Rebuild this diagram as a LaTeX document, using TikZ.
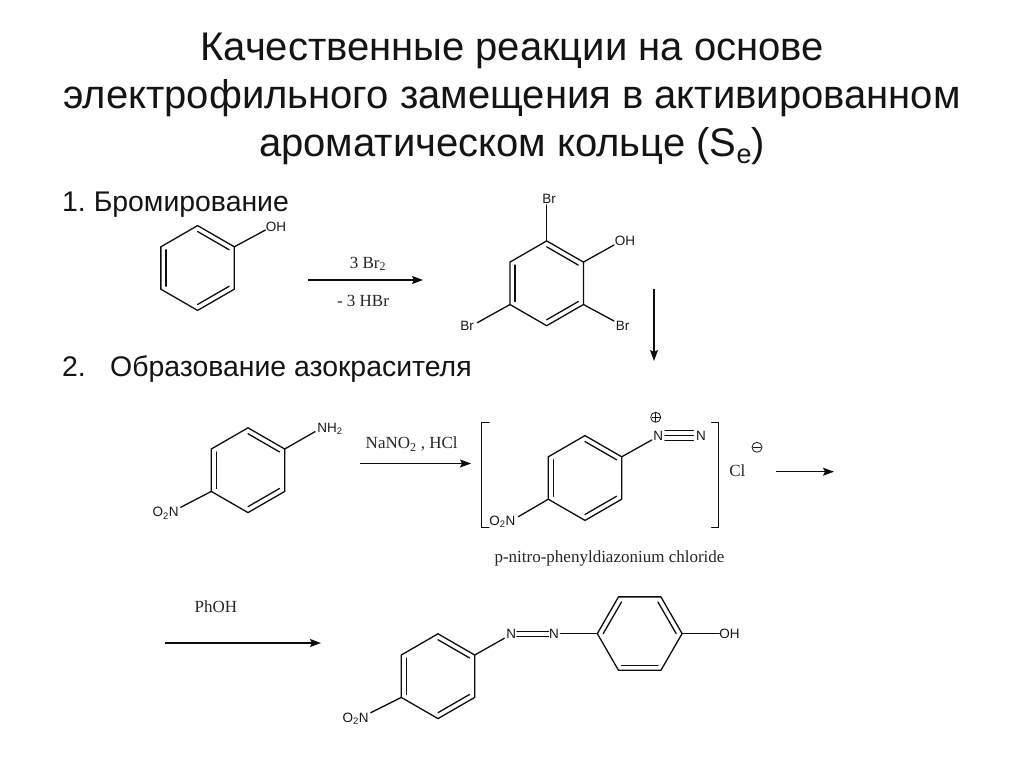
\documentclass[tikz,border=0pt]{standalone}
\usepackage{fontspec}
\setmainfont{Liberation Sans}
\newfontfamily\serifchem{Liberation Serif}
\usetikzlibrary{arrows.meta,calc}
\frenchspacing
\tikzset{
  bond/.style={line width=1.3pt,line cap=round,line join=miter,black!95},
  rx/.style={line width=1.3pt,black!95,-{Stealth[length=11pt,width=8pt,inset=2pt]}},
  atom/.style={inner sep=0.6pt,font=\fontsize{13.5}{14}\selectfont,text=black!90},
  cond/.style={inner sep=0pt,font=\serifchem\fontsize{17}{18}\selectfont,text=black!85},
  ttl/.style={inner sep=0pt,anchor=base,font=\fontsize{40}{44}\selectfont,text=black!92},
  sub/.style={inner sep=0pt,anchor=base west,font=\fontsize{28.4}{30}\selectfont,text=black!92},
  chg/.style={circle,draw=black!90,line width=0.8pt,minimum size=10pt,inner sep=0pt}
}
\newcommand{\ChemRing}[4]{%
  \coordinate (#1c) at (#2,#3);
  \foreach \k in {1,...,6}{\coordinate (#1\k) at ($(#2,#3)+({42.4*cos(#4+60*(\k-1))},{42.4*sin(#4+60*(\k-1))})$);}
  \draw[bond] (#11)--(#12)--(#13)--(#14)--(#15)--(#16)--cycle;
}
\newcommand{\ChemDouble}[3]{\draw[bond] ($(#1c)!0.86!(#1#2)$)--($(#1c)!0.86!(#1#3)$);}
\begin{document}
\begin{tikzpicture}[x=1pt,y=-1pt]
\useasboundingbox (0,0) rectangle (1024,768);
\fill[white] (0,0) rectangle (1024,768);
% title
\node[ttl] (t1) at (512,60.7) {Качественные реакции на основе};
\node[ttl] (t2) at (512,108.5) {электрофильного замещения в активированном};
\node[ttl] (t3) at (512,156.7) {ароматическом кольце (S\raisebox{-7pt}{\fontsize{27}{28}\selectfont e})};
\node[sub] (h1) at (62,211.7) {1. Бромирование};
\node[sub] (h2a) at (62,376) {2.};
\node[sub] (h2b) at (110,376) {Образование азокрасителя};
% phenol
\ChemRing{a}{197.6}{268}{-90}
\ChemDouble{a}{1}{2}\ChemDouble{a}{3}{4}\ChemDouble{a}{5}{6}
\node[atom] (aoh) at (276,227) {OH};
\draw[bond] (a2)--(265.5,230) coordinate (aohb);
% arrow 1
\coordinate (r1s) at (308,280);\coordinate (r1e) at (423,280);
\draw[rx] (r1s)--(r1e);
\node[cond] (r1a) at (368,264) {3 Br\textsubscript{2}};
\node[cond] (r1b) at (363,301) {- 3 HBr};
% tribromophenol
\ChemRing{b}{546.7}{283.3}{-90}
\ChemDouble{b}{1}{2}\ChemDouble{b}{3}{4}\ChemDouble{b}{5}{6}
\node[atom] (bbr1) at (549,198.5) {Br};
\node[atom] (boh) at (625,241) {OH};
\node[atom] (bbr2) at (622.5,325.7) {Br};
\node[atom] (bbr3) at (467,325.7) {Br};
\draw[bond] (b1)--(546.7,205);
\draw[bond] (b2)--(614,245);
\draw[bond] (b3)--(614,321);
\draw[bond] (b5)--(477.3,322.7);
\coordinate (dns) at (654,289);\coordinate (dne) at (654,361);
\draw[rx] (dns)--(dne);
% nitroaniline
\ChemRing{c}{248}{470.2}{-90}
\ChemDouble{c}{1}{2}\ChemDouble{c}{3}{4}\ChemDouble{c}{5}{6}
\node[atom] (cnh) at (330,429) {NH\textsubscript{2}};
\node[atom] (cno) at (165.7,513.3) {O\textsubscript{2}N};
\draw[bond] (c2)--(315,431.7);
\draw[bond] (c5)--(180.7,507.3);
\coordinate (r2s) at (360,463.5);\coordinate (r2e) at (471,463.5);
\draw[rx] (r2s)--(r2e);
\node[cond] (r2a) at (411.7,444) {NaNO\textsubscript{2} , HCl};
% diazonium
\ChemRing{d}{585}{478}{-90}
\ChemDouble{d}{1}{2}\ChemDouble{d}{3}{4}\ChemDouble{d}{5}{6}
\node[atom] (dn1) at (658.3,435.7) {N};
\node[atom] (dn2) at (701,435.7) {N};
\node[atom] (dno) at (502.3,521.7) {O\textsubscript{2}N};
\draw[bond] (d2)--(651.7,440);
\draw[bond] (d5)--(518.3,516.7);
\foreach \s in {-5,0,5}{\draw[bond] (665,435.7+\s)--(693.3,435.7+\s);}
\node[chg] (dplus) at (655.7,417.3) {};
\draw[line width=0.8pt,black!90] (651.5,417.3)--(659.9,417.3) (655.7,413.1)--(655.7,421.5);
\draw[bond] (489,422.7)--(481.7,422.7)--(481.7,527.3)--(489,527.3);
\draw[bond] (711.7,422.7)--(718.7,422.7)--(718.7,527.3)--(711.7,527.3);
\node[cond] (dcl) at (737.3,470.5) {Cl};
\node[chg] (dminus) at (757,447.3) {};
\draw[line width=0.8pt,black!90] (752.8,447.3)--(761.2,447.3);
\coordinate (r3s) at (776,471.7);\coordinate (r3e) at (834,471.7);
\draw[rx] (r3s)--(r3e);
\node[cond] (cap) at (609.5,558) {p-nitro-phenyldiazonium chloride};
% PhOH arrow
\coordinate (r4s) at (165,643);\coordinate (r4e) at (321,643);
\draw[rx] (r4s)--(r4e);
\node[cond] (r4a) at (216,607) {PhOH};
% azo dye
\ChemRing{e}{438}{676.2}{-90}
\ChemDouble{e}{1}{2}\ChemDouble{e}{3}{4}\ChemDouble{e}{5}{6}
\ChemRing{f}{639.7}{633.6}{0}
\ChemDouble{f}{2}{3}\ChemDouble{f}{4}{5}\ChemDouble{f}{6}{1}
\node[atom] (en1) at (511.3,633.7) {N};
\node[atom] (en2) at (554,633.7) {N};
\node[atom] (foh) at (729.5,633.7) {OH};
\node[atom] (eno) at (355.7,719) {O\textsubscript{2}N};
\draw[bond] (e2)--(504.3,638.3);
\draw[bond] (f4)--(560.7,633.6);
\draw[bond] (f1)--(719.3,633.6);
\draw[bond] (e5)--(370.7,712.7);
\draw[bond] (517,631.7)--(548.5,631.7) (517,636.7)--(548.5,636.7);
\end{tikzpicture}
\end{document}
